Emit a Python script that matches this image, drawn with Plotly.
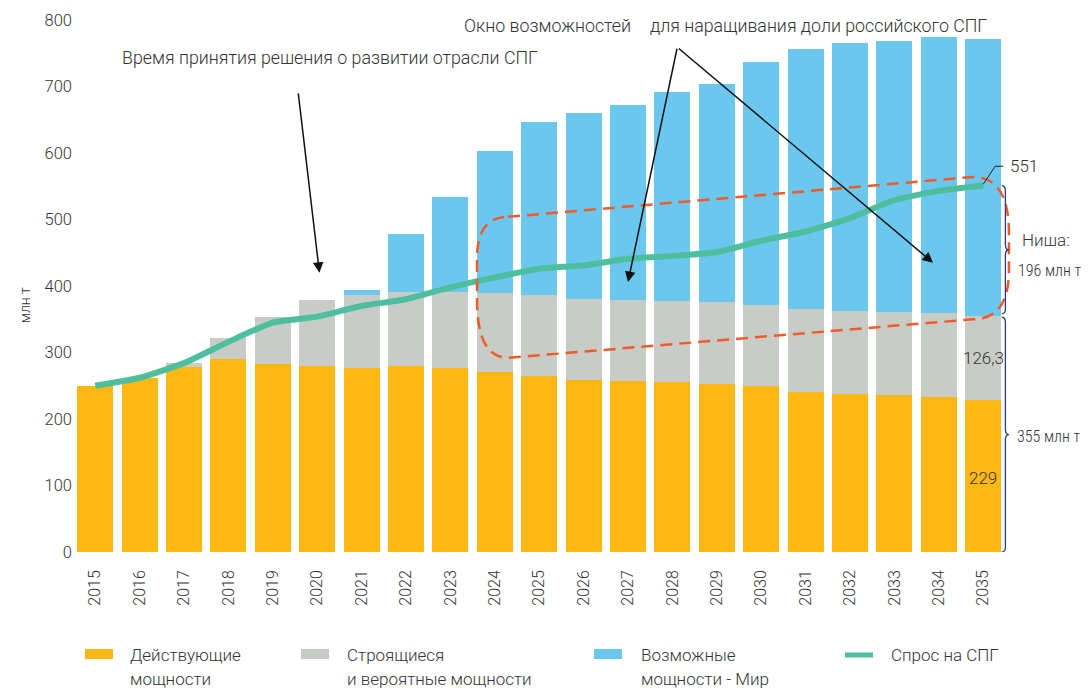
import plotly.graph_objects as go

# LNG capacity vs demand, mln t
years = list(range(2015, 2036))
existing = [250, 262, 278, 290, 282, 279, 277, 280, 276, 270, 265, 259, 257, 256, 253, 249, 241, 238, 236, 233, 229]
construction = [0, 0, 6, 32, 71, 100, 109, 111, 115, 119, 121, 121, 122, 121, 123, 123, 124, 124, 125, 126, 126.3]
possible = [0, 0, 0, 0, 0, 0, 8, 87, 143, 214, 260, 280, 293, 314, 328, 365, 391, 403, 408, 415, 416]
demand = [250, 262, 284, 316, 345, 354, 370, 380, 398, 413, 426, 431, 441, 445, 451, 468, 482, 502, 529, 543, 551]
y_ticks = [0, 100, 200, 300, 400, 500, 600, 700, 800]

series_names = ["Действующие<br>мощности", "Строящиеся<br>и вероятные мощности",
                "Возможные<br>мощности - Мир", "Спрос на СПГ"]
COLORS = ["#fdb714", "#c8ccc6", "#6cc7ef", "#4dbf9e"]
TEXT = "#333333"
FONT = "Roboto"
NARROW = "Liberation Sans Narrow, Roboto Condensed, Roboto"

# page body has an 8px margin, so everything is laid out 8px up/left
OFF = 8
FW, FH = 1092 - OFF, 690 - OFF
L, W, T, H = 73 - OFF, 1019, 20 - OFF, 532


def px_x(px):
    return (px - OFF - L) / W


def px_y(py):
    return (T + H - (py - OFF)) / H


fig = go.Figure()
for vals, col in zip([existing, construction, possible], COLORS[:3]):
    fig.add_trace(go.Bar(x=years, y=vals, marker=dict(color=col, line=dict(width=0)), showlegend=False))
fig.add_trace(go.Scatter(x=years, y=demand, mode="lines", showlegend=False,
                         line=dict(color=COLORS[3], width=6, shape="spline", smoothing=0.5)))

shapes = []
# dashed "window" outline
shapes.append(dict(
    type="path", xref="x", yref="y", layer="above",
    path=("M 2024.3,504 L 2034.77,564 Q 2035.58,564 2035.58,480 L 2035.58,424 "
          "Q 2035.58,350 2034.77,350 L 2024.3,292 Q 2023.6,292 2023.6,379 "
          "L 2023.6,442 Q 2023.6,504 2024.3,504 Z"),
    line=dict(color="#f15a29", width=2.5, dash="12px,7px"),
))


# braces on the right
def brace(top, bottom):
    mid = (top + bottom) / 2
    return ("M 2035.42,%s Q 2035.5,%s 2035.5,%s L 2035.5,%s Q 2035.5,%s 2035.58,%s "
            "Q 2035.5,%s 2035.5,%s L 2035.5,%s Q 2035.5,%s 2035.42,%s"
            % (top, top, top - 8, mid + 8, mid, mid, mid, mid - 8, bottom + 8, bottom, bottom))


for top, bottom in [(551, 358), (353, 0)]:
    shapes.append(dict(type="path", xref="x", yref="y", path=brace(top, bottom),
                       line=dict(color="#2a3d7c", width=1.3)))
# leader line for 551
shapes.append(dict(type="path", xref="x", yref="y",
                   path="M 2035,553 L 2035.27,580 L 2035.45,580", line=dict(color="#222", width=1)))

# legend marks
legend_px = [128, 345, 639, 889]
mark_px = [85, 301, 594, 843]
for i in range(3):
    shapes.append(dict(type="rect", xref="paper", yref="paper", line=dict(width=0), fillcolor=COLORS[i],
                       x0=px_x(mark_px[i]), x1=px_x(mark_px[i] + 28), y0=px_y(659), y1=px_y(649)))
shapes.append(dict(type="line", xref="paper", yref="paper", line=dict(color=COLORS[3], width=5),
                   x0=px_x(mark_px[3] + 2), x1=px_x(mark_px[3] + 30), y0=px_y(655), y1=px_y(655)))

ann = []
for name, x in zip(series_names, legend_px):
    for j, line in enumerate(name.split("<br>")):
        ann.append(dict(xref="paper", yref="paper", x=px_x(x), y=px_y(655 + 24 * j), text=line,
                        showarrow=False, xanchor="left", yanchor="middle",
                        font=dict(size=17, color=TEXT, weight=300)))

# arrows
arrow = dict(text="", showarrow=True, arrowhead=2, arrowsize=1.4, arrowwidth=1.5, arrowcolor="#111",
             xref="x", yref="y", axref="x", ayref="y")
ann.append(dict(arrow, x=2020.05, y=420, ax=2019.57, ay=692))
ann.append(dict(arrow, x=2027.0, y=406, ax=2028.11, ay=759))
ann.append(dict(arrow, x=2033.87, y=435, ax=2028.11, ay=759))


# texts
def label(x, y, text, size=18, xanchor="left", family=FONT, **kw):
    return dict(x=x, y=y, xref="x", yref="y", text=text, showarrow=False, xanchor=xanchor,
                yanchor="middle", font=dict(size=size, color=TEXT, weight=300, family=family), **kw)


ann.append(label(2015.56, 743, "Время принятия решения о развитии отрасли СПГ", size=17.8))
ann.append(label(2023.25, 792, "Окно возможностей", size=17.8))
ann.append(label(2027.44, 792, "для наращивания доли российского СПГ", size=17.8))
ann.append(label(2035.56, 581, "551", size=17))
ann.append(label(2035.83, 469, "Ниша:", size=17))
ann.append(label(2035.74, 424, "196 млн т", size=16, family=NARROW))
ann.append(label(2035.72, 173, "355 млн т", size=16, family=NARROW))
ann.append(label(2035.0, 292, "126,3", size=17, xanchor="center"))
ann.append(label(2035.0, 111, "229", size=17, xanchor="center"))
ann.append(dict(xref="paper", yref="y", x=px_x(15), y=371, text="млн т", textangle=-90, showarrow=False,
                font=dict(size=14, color=TEXT, weight=300)))

fig.update_layout(
    width=FW, height=FH,
    margin=dict(l=L, r=FW - L - W, t=T, b=FH - T - H),
    paper_bgcolor="white", plot_bgcolor="white",
    barmode="stack", bargap=0.19,
    font=dict(family=FONT, color=TEXT),
    shapes=shapes, annotations=ann,
    xaxis=dict(range=[2014.5, 2014.5 + W / 44.4], tickmode="array", tickvals=years,
               ticktext=[str(y) for y in years], tickangle=-90, showgrid=False, zeroline=False,
               showline=False, ticks="", ticklabelstandoff=14,
               tickfont=dict(size=16, color=TEXT, weight=300)),
    yaxis=dict(range=[0, 800], tickmode="array", tickvals=y_ticks, showgrid=False, zeroline=False,
               showline=False, ticks="", tickfont=dict(size=16.5, color=TEXT, weight=300)),
)

fig.write_html("out.html")
